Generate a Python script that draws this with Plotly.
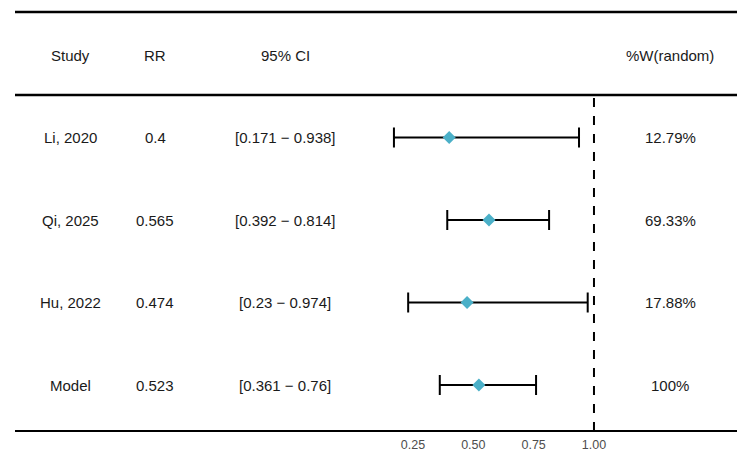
import plotly.graph_objects as go

studies = ["Li, 2020", "Qi, 2025", "Hu, 2022", "Model"]
rr = [0.4, 0.565, 0.474, 0.523]
lower = [0.171, 0.392, 0.23, 0.361]
upper = [0.938, 0.814, 0.974, 0.76]
ci_text = ["[0.171 \u2212 0.938]", "[0.392 \u2212 0.814]", "[0.23 \u2212 0.974]", "[0.361 \u2212 0.76]"]
rr_text = ["0.4", "0.565", "0.474", "0.523"]
weights = ["12.79%", "69.33%", "17.88%", "100%"]
headers = ["Study", "RR", "95% CI", "%W(random)"]
tick_vals = [0.25, 0.5, 0.75, 1.0]
tick_text = ["0.25", "0.50", "0.75", "1.00"]

W, H = 750, 451
# pixel mapping helpers (layout only)
px_per_unit = 241.3
x0_val = 0.25 - 413 / px_per_unit
x1_val = 0.25 + (W - 413) / px_per_unit
row_px = 82.5
top_row = 55
bottom_px = 431
y_top = -top_row / row_px
y_bot = (bottom_px - top_row) / row_px

rows = list(range(1, len(studies) + 1))

fig = go.Figure()
fig.add_trace(go.Scatter(
    x=rr, y=rows, mode="markers",
    marker=dict(symbol="diamond", size=10, color="#4BB0C8"),
    error_x=dict(type="data", symmetric=False,
                 array=[u - r for u, r in zip(upper, rr)],
                 arrayminus=[r - l for r, l in zip(rr, lower)],
                 color="black", thickness=2, width=10),
    showlegend=False, hoverinfo="skip",
))
# tick marks below the axis rule (unclipped markers)
fig.add_trace(go.Scatter(
    x=tick_vals, y=[y_bot + 3 / row_px] * len(tick_vals), mode="markers",
    marker=dict(symbol="line-ns", size=6, line=dict(color="black", width=2)),
    cliponaxis=False, showlegend=False, hoverinfo="skip",
))

font = dict(family="Liberation Sans, Arial, sans-serif", size=15, color="#1a1a1a")
col_x = [70 / W, 155 / W, 285 / W, 670 / W]

for j, h in enumerate(headers):
    fig.add_annotation(x=col_x[j], y=0, xref="paper", yref="y", text=h,
                       showarrow=False, font=font, xanchor="center", yanchor="middle")
for i, r in enumerate(rows):
    for j, t in enumerate([studies[i], rr_text[i], ci_text[i], weights[i]]):
        fig.add_annotation(x=col_x[j], y=r, xref="paper", yref="y", text=t,
                           showarrow=False, font=font, xanchor="center", yanchor="middle")

# horizontal rules
lx0, lx1 = 15 / W, 737 / W
fig.add_shape(type="line", xref="paper", yref="paper", x0=lx0, x1=lx1,
              y0=1 - 12 / bottom_px, y1=1 - 12 / bottom_px, line=dict(color="black", width=2.5))
fig.add_shape(type="line", xref="paper", yref="paper", x0=lx0, x1=lx1,
              y0=1 - 95 / bottom_px, y1=1 - 95 / bottom_px, line=dict(color="black", width=2.5))
fig.add_shape(type="line", xref="paper", yref="paper", x0=lx0, x1=lx1,
              y0=0, y1=0, line=dict(color="black", width=2))
# reference line at 1
fig.add_shape(type="line", xref="x", yref="paper", x0=1.0, x1=1.0,
              y0=0, y1=1 - 97 / bottom_px, line=dict(color="black", width=2, dash="dash"))

fig.update_layout(
    width=W, height=H,
    margin=dict(l=0, r=0, t=0, b=H - bottom_px),
    plot_bgcolor="white", paper_bgcolor="white",
    xaxis=dict(range=[x0_val, x1_val], tickvals=tick_vals, ticktext=tick_text,
               showgrid=False, zeroline=False, showline=False,
               ticks="", ticklabelstandoff=4,
               tickfont=dict(family="Liberation Sans, Arial, sans-serif", size=12.5, color="#4d4d4d"),
               fixedrange=True),
    yaxis=dict(range=[y_bot, y_top], showgrid=False, zeroline=False, showline=False,
               showticklabels=False, ticks="", fixedrange=True),
)

fig.write_html("out.html")
